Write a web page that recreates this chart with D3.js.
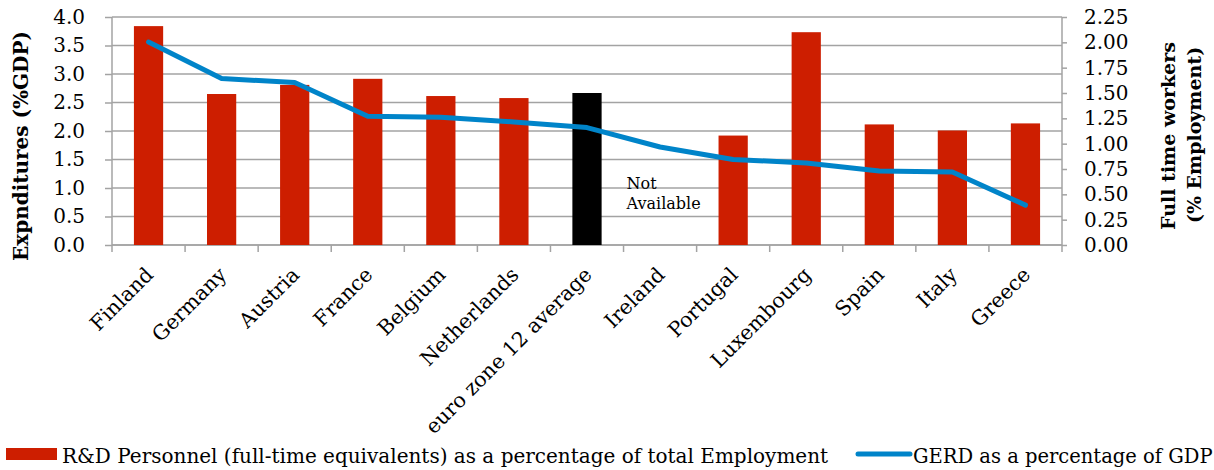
<!DOCTYPE html>
<html>
<head>
<meta charset="utf-8">
<script src="https://cdn.jsdelivr.net/npm/d3@7"></script>
<style>
  html, body { margin: 0; padding: 0; background: #fff; }
  svg { display: block; font-family: "DejaVu Serif", serif; }
</style>
</head>
<body>
<svg id="chart" width="1214" height="470"></svg>
<script>
// Countries (plus the euro-zone average) along the x axis
const categories = ["Finland", "Germany", "Austria", "France", "Belgium", "Netherlands",
  "euro zone 12 average", "Ireland", "Portugal", "Luxembourg", "Spain", "Italy", "Greece"];

// R&D personnel (FTE) as % of total employment — right axis; null = not available
const personnel = [2.16, 1.49, 1.58, 1.64, 1.47, 1.45, 1.50, null, 1.08, 2.10, 1.19, 1.13, 1.20];

// GERD as % of GDP — left axis
const gerd = [3.56, 2.92, 2.85, 2.26, 2.24, 2.16, 2.06, 1.72, 1.50, 1.44, 1.30, 1.28, 0.70];

const leftTicks = [0, 0.5, 1, 1.5, 2, 2.5, 3, 3.5, 4];
const rightTicks = [0, 0.25, 0.5, 0.75, 1, 1.25, 1.5, 1.75, 2, 2.25];

const averageLabel = "euro zone 12 average";
const barColor = "#cd1e00";
const avgColor = "#000000";
const lineColor = "#0084c9";
const gridColor = "#a3a3a3";

const W = 1214, H = 470;
const margin = { top: 17, right: 152, bottom: 225, left: 112 };
const svg = d3.select("#chart");

const x = d3.scaleBand().domain(categories).range([margin.left, W - margin.right]).padding(0);
const yL = d3.scaleLinear().domain([0, 4]).range([H - margin.bottom, margin.top]);
const yR = d3.scaleLinear().domain([0, 2.25]).range([H - margin.bottom, margin.top]);

// horizontal gridlines on the left-axis ticks
svg.append("g")
  .selectAll("line").data(leftTicks).join("line")
  .attr("x1", margin.left).attr("x2", W - margin.right)
  .attr("y1", d => yL(d)).attr("y2", d => yL(d))
  .attr("stroke", gridColor).attr("stroke-width", 1.5);

// left axis
const axL = svg.append("g").attr("transform", `translate(${margin.left},0)`)
  .call(d3.axisLeft(yL).tickValues(leftTicks).tickFormat(d3.format(".1f")).tickSize(7).tickPadding(20));
// right axis
const axR = svg.append("g").attr("transform", `translate(${W - margin.right},0)`)
  .call(d3.axisRight(yR).tickValues(rightTicks).tickFormat(d3.format(".2f")).tickSize(5).tickPadding(17));
// bottom axis: ticks at the category boundaries
const boundaries = categories.map(c => x(c)).concat([W - margin.right]);
const axB = svg.append("g").attr("transform", `translate(0,${H - margin.bottom})`);
axB.append("line").attr("x1", margin.left).attr("x2", W - margin.right)
  .attr("stroke", gridColor).attr("stroke-width", 1.5);
axB.selectAll("line.tk").data(boundaries).join("line").attr("class", "tk")
  .attr("x1", d => d).attr("x2", d => d).attr("y1", 0).attr("y2", 7)
  .attr("stroke", gridColor).attr("stroke-width", 1.5);

[axL, axR].forEach(g => {
  g.select(".domain").attr("stroke", gridColor).attr("stroke-width", 1.5);
  g.selectAll(".tick line").attr("stroke", gridColor).attr("stroke-width", 1.5);
  g.selectAll(".tick text").attr("fill", "#000").style("font-size", "20px")
    .style("font-family", "'DejaVu Serif', serif");
});
axL.select(".domain").attr("d", `M0,${yL(4)}V${yL(0)}`);
axR.select(".domain").attr("d", `M0,${yR(2.25)}V${yR(0)}`);

// bars (right axis)
const bw = x.bandwidth() * 0.4;
svg.append("g")
  .selectAll("rect").data(categories.map((c, i) => ({ c, v: personnel[i] })).filter(d => d.v != null))
  .join("rect")
  .attr("x", d => x(d.c) + (x.bandwidth() - bw) / 2)
  .attr("width", bw)
  .attr("y", d => yR(d.v))
  .attr("height", d => yR(0) - yR(d.v))
  .attr("fill", d => d.c === averageLabel ? avgColor : barColor);

// GERD line (left axis)
const line = d3.line()
  .x((d, i) => x(categories[i]) + x.bandwidth() / 2)
  .y(d => yL(d));
svg.append("path").datum(gerd)
  .attr("d", line)
  .attr("fill", "none")
  .attr("stroke", lineColor)
  .attr("stroke-width", 5)
  .attr("stroke-linejoin", "round")
  .attr("stroke-linecap", "round");

// note for the missing Irish value
const na = svg.append("text")
  .attr("x", x("Ireland") + 3).attr("y", 189)
  .style("font-size", "16px").attr("fill", "#000");
na.append("tspan").text("Not");
na.append("tspan").attr("x", x("Ireland") + 3).attr("dy", 20).text("Available");

// rotated category labels
svg.append("g")
  .selectAll("text").data(categories).join("text")
  .attr("transform", d => `translate(${x(d) + x.bandwidth() / 2 + 6},${H - margin.bottom + 31}) rotate(-45)`)
  .attr("text-anchor", "end")
  .style("font-size", "20.5px")
  .attr("fill", "#000")
  .text(d => d);

// axis titles
svg.append("text")
  .attr("transform", `translate(28,146) rotate(-90)`)
  .attr("text-anchor", "middle")
  .style("font-size", "20px").style("font-weight", "bold")
  .text("Expnditures (%GDP)");
svg.append("text")
  .attr("transform", `translate(1175,136) rotate(-90)`)
  .attr("text-anchor", "middle")
  .style("font-size", "19px").style("font-weight", "bold")
  .text("Full time workers");
svg.append("text")
  .attr("transform", `translate(1201,135) rotate(-90)`)
  .attr("text-anchor", "middle")
  .style("font-size", "19px").style("font-weight", "bold")
  .text("(% Employment)");

// legend
const lg = svg.append("g");
lg.append("rect").attr("x", 6).attr("y", 448).attr("width", 51).attr("height", 12).attr("fill", barColor);
lg.append("text").attr("x", 62).attr("y", 463).style("font-size", "20px")
  .text("R&D Personnel (full-time equivalents) as a percentage of total Employment");
lg.append("line").attr("x1", 858).attr("x2", 910).attr("y1", 454).attr("y2", 454)
  .attr("stroke", lineColor).attr("stroke-width", 5).attr("stroke-linecap", "round");
lg.append("text").attr("x", 913).attr("y", 463).style("font-size", "19.5px")
  .text("GERD as a percentage of GDP");
</script>
</body>
</html>
